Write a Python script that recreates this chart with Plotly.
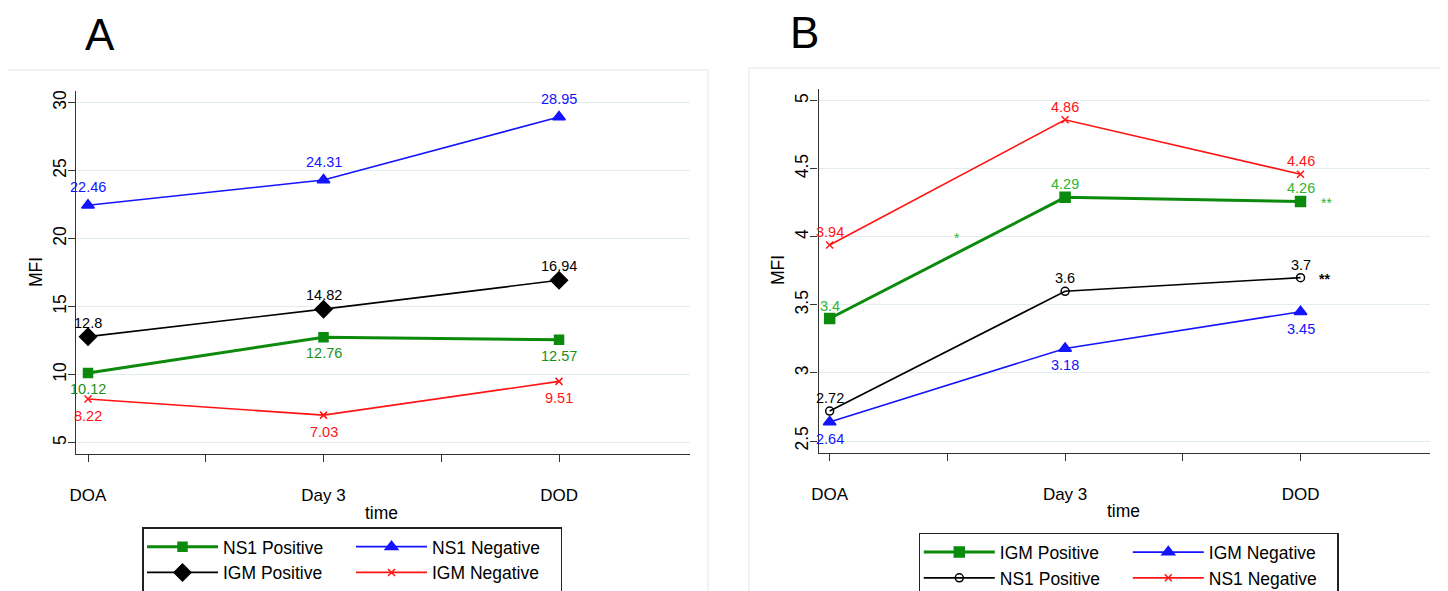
import plotly.graph_objects as go

# ---------------- data ----------------
time_labels = ["DOA", "Day 3", "DOD"]

# Panel A
a_ns1_pos = [10.12, 12.76, 12.57]
a_ns1_neg = [22.46, 24.31, 28.95]
a_igm_pos = [12.8, 14.82, 16.94]
a_igm_neg = [8.22, 7.03, 9.51]

# Panel B
b_igm_pos = [3.4, 4.29, 4.26]
b_igm_neg = [2.64, 3.18, 3.45]
b_ns1_pos = [2.72, 3.6, 3.7]
b_ns1_neg = [3.94, 4.86, 4.46]

a_yticks = [5, 10, 15, 20, 25, 30]
b_yticks = [2.5, 3, 3.5, 4, 4.5, 5]

# ---------------- styling ----------------
W, H = 1448, 591
OFF = 8  # page body margin
FONT = "Liberation Sans, Arial, sans-serif"
GREEN = "#0c8a0c"
BLUE = "#1414ff"
RED = "#ff1414"
BLACK = "#000000"
GRID = "#e2eded"
AXC = "#333333"

xpos = list(range(1, len(time_labels) + 1))
xticks = []
xtext = []
for i, lab in enumerate(time_labels):
    xticks.append(xpos[i])
    xtext.append(lab)
    if i < len(time_labels) - 1:
        xticks.append(xpos[i] + 0.5)
        xtext.append("")


def px(x):
    return (x - OFF) / W


def py(y):
    return 1 - (y - OFF) / H


fig = go.Figure()

series_a = [
    ("NS1 Positive", a_ns1_pos, GREEN, "square", 9, 3, "ga1", "#1b8f1b", -16),
    ("NS1 Negative", a_ns1_neg, BLUE, "triangle-up", 11, 1.6, "ga2", BLUE, 18),
    ("IGM Positive", a_igm_pos, BLACK, "diamond", 13, 1.6, "ga1", BLACK, 14),
    ("IGM Negative", a_igm_neg, RED, "x-thin-open", 7, 1.6, "ga2", RED, -17),
]
series_b = [
    ("IGM Positive", b_igm_pos, GREEN, "square", 10, 3, "gb1", "#2fb52f", 13),
    ("IGM Negative", b_igm_neg, BLUE, "triangle-up", 11, 1.6, "gb2", BLUE, -17),
    ("NS1 Positive", b_ns1_pos, BLACK, "circle-open", 8, 1.6, "gb1", BLACK, 13),
    ("NS1 Negative", b_ns1_neg, RED, "x-thin-open", 7, 1.6, "gb2", RED, 13),
]

annotations = []


def ann(**kw):
    d = dict(showarrow=False, xanchor="center", yanchor="middle")
    d.update(kw)
    return d


for (series, xa, ya, leg) in [(series_a, "x", "y", "legend"), (series_b, "x2", "y2", "legend2")]:
    for name, vals, col, sym, msz, lw, grp, lcol, shift in series:
        fig.add_trace(go.Scatter(
            x=xpos, y=vals, name=name, mode="lines+markers",
            line=dict(color=col, width=lw),
            marker=dict(symbol=sym, size=msz, color=col,
                        line=dict(color=col, width=1.5)),
            xaxis=xa, yaxis=ya, legend=leg, legendgroup=grp,
            hoverinfo="skip",
        ))
        for xv, v in zip(xpos, vals):
            annotations.append(ann(
                x=xv, y=v, xref=xa, yref=ya, text=f"{v:g}",
                yshift=shift, font=dict(family=FONT, size=14.5, color=lcol),
            ))

# significance marks (panel B)
annotations += [
    ann(x=1.541, y=3.99, xref="x2", yref="y2", text="*",
        font=dict(family=FONT, size=14, color="#2fb52f")),
    ann(x=3, y=4.26, xref="x2", yref="y2", text="**", xshift=26, yshift=-2,
        font=dict(family=FONT, size=14, color="#2fb52f")),
    ann(x=3, y=3.7, xref="x2", yref="y2", text="<b>**</b>", xshift=24, yshift=-1,
        font=dict(family=FONT, size=14, color=BLACK)),
]

# panel letters and axis titles
annotations += [
    ann(x=px(100), y=py(34), xref="paper", yref="paper", text="A",
        font=dict(family=FONT, size=44, color=BLACK)),
    ann(x=px(804), y=py(33), xref="paper", yref="paper", text="B",
        font=dict(family=FONT, size=44, color=BLACK)),
    ann(x=px(36), y=py(272), xref="paper", yref="paper", text="MFI", textangle=-90,
        font=dict(family=FONT, size=17.5, color=BLACK)),
    ann(x=px(778), y=py(270), xref="paper", yref="paper", text="MFI", textangle=-90,
        font=dict(family=FONT, size=17.5, color=BLACK)),
    ann(x=px(382), y=py(513), xref="paper", yref="paper", text="time",
        font=dict(family=FONT, size=17.5, color=BLACK)),
    ann(x=px(1123), y=py(511), xref="paper", yref="paper", text="time",
        font=dict(family=FONT, size=17.5, color=BLACK)),
]

xaxis_common = dict(
    tickmode="array", tickvals=xticks, ticktext=xtext,
    showline=True, linecolor=AXC, linewidth=1.3,
    ticks="outside", ticklen=7, tickcolor=AXC, tickwidth=1.2,
    showgrid=False, zeroline=False, ticklabelstandoff=18,
    tickfont=dict(family=FONT, size=17, color=BLACK),
)
yaxis_common = dict(
    tickmode="array", tickangle=-90,
    showline=True, linecolor=AXC, linewidth=1.3,
    ticks="outside", ticklen=7, tickcolor=AXC, tickwidth=1.2,
    showgrid=True, gridcolor=GRID, gridwidth=1.3, zeroline=False,
    ticklabelstandoff=-5,
    tickfont=dict(family=FONT, size=17.5, color=BLACK),
)

legend_common = dict(
    orientation="h", traceorder="grouped", xanchor="left", yanchor="top",
    bordercolor="#222222", borderwidth=1.5, bgcolor="white",
    font=dict(family=FONT, size=17.5, color=BLACK),
    itemwidth=71, entrywidth=123, entrywidthmode="pixels", tracegroupgap=0,
    itemclick=False, itemdoubleclick=False,
)

fig.update_layout(
    width=W, height=H,
    margin=dict(l=0, r=0, t=0, b=0, autoexpand=False),
    paper_bgcolor="white", plot_bgcolor="white",
    font=dict(family=FONT, color=BLACK),
    xaxis=dict(domain=[px(76), px(689.5)], range=[0.949, 3.554], anchor="y", **xaxis_common),
    yaxis=dict(domain=[py(454.3), py(90.7)], range=[4.15, 30.88], anchor="x",
               tickvals=a_yticks, **yaxis_common),
    xaxis2=dict(domain=[px(818.6), px(1430)], range=[0.953, 3.55], anchor="y2", **xaxis_common),
    yaxis2=dict(domain=[py(453), py(89)], range=[2.412, 5.086], anchor="x2",
                tickvals=b_yticks, **yaxis_common),
    legend=dict(x=px(142), y=py(527.3), **legend_common),
    legend2=dict(x=px(918.8), y=py(532.7), **legend_common),
    annotations=annotations,
    shapes=[
        dict(type="rect", xref="paper", yref="paper", x0=px(7), x1=px(708), y0=-0.1, y1=py(70),
             line=dict(color="#e9eff0", width=1.5), layer="below"),
        dict(type="rect", xref="paper", yref="paper", x0=px(749), x1=px(1446.5), y0=-0.1, y1=py(68),
             line=dict(color="#e9eff0", width=1.5), layer="below"),
    ],
    showlegend=True,
)

fig.write_html("out.html")
